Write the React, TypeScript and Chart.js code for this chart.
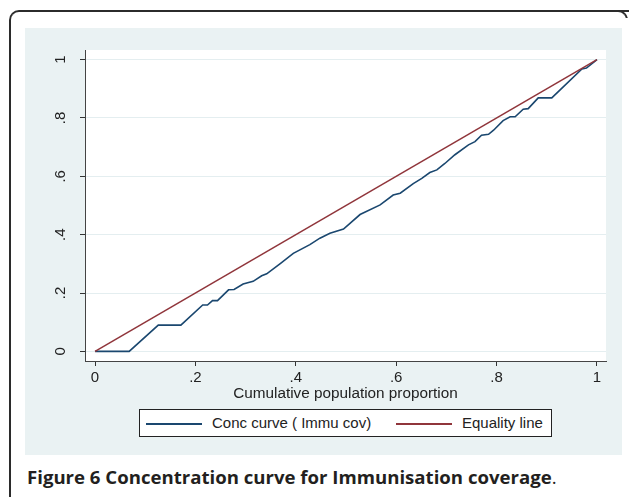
import React, { useEffect, useRef } from 'react';
import { Chart, registerables } from 'chart.js';

Chart.register(...registerables);

// ---- data ----
const concX = [0, 0.068, 0.126, 0.171, 0.2145, 0.224, 0.234, 0.244, 0.266, 0.277, 0.295, 0.315, 0.332, 0.342, 0.369, 0.395, 0.428, 0.448, 0.468, 0.495, 0.528, 0.568, 0.594, 0.608, 0.634, 0.651, 0.667, 0.681, 0.697, 0.717, 0.744, 0.757, 0.77, 0.784, 0.794, 0.813, 0.827, 0.837, 0.853, 0.863, 0.883, 0.91, 0.97, 0.979, 1];
const concY = [0, 0, 0.09, 0.09, 0.159, 0.159, 0.174, 0.174, 0.211, 0.212, 0.231, 0.24, 0.259, 0.266, 0.301, 0.336, 0.366, 0.388, 0.405, 0.419, 0.469, 0.502, 0.536, 0.542, 0.575, 0.593, 0.613, 0.622, 0.644, 0.674, 0.708, 0.719, 0.741, 0.744, 0.758, 0.791, 0.804, 0.804, 0.83, 0.832, 0.869, 0.869, 0.968, 0.971, 1];
const equalX = [0, 1];
const equalY = [0, 1];
const tickValues = [0, 0.2, 0.4, 0.6, 0.8, 1];
const tickLabels = ['0', '.2', '.4', '.6', '.8', '1'];
const seriesLabels = ['Conc curve ( Immu cov)', 'Equality line'];
const seriesColors = ['#1a476f', '#90353b'];
const xTitle = 'Cumulative population proportion';
const captionBold = 'Figure 6 Concentration curve for Immunisation coverage';

const FONT = '"Liberation Sans", Arial, Helvetica, sans-serif';
const PANEL = '#eaf2f3';

const plotBg = {
  id: 'plotBg',
  beforeDraw(chart: any) {
    const { ctx, chartArea } = chart;
    if (!chartArea) return;
    ctx.save();
    ctx.fillStyle = '#ffffff';
    ctx.fillRect(chartArea.left, chartArea.top, chartArea.right - chartArea.left, chartArea.bottom - chartArea.top);
    ctx.restore();
  },
};

function ConcChart() {
  const ref = useRef<HTMLCanvasElement | null>(null);
  useEffect(() => {
    if (!ref.current) return;
    const setTicks = (s: any) => {
      s.ticks = tickValues.map((v) => ({ value: v }));
    };
    const chart = new Chart(ref.current, {
      type: 'scatter',
      data: {
        datasets: [
          {
            label: seriesLabels[0],
            data: concX.map((x, i) => ({ x, y: concY[i] })),
            showLine: true,
            borderColor: seriesColors[0],
            backgroundColor: seriesColors[0],
            borderWidth: 1.6,
            pointRadius: 0,
            tension: 0,
            order: 1,
          },
          {
            label: seriesLabels[1],
            data: equalX.map((x, i) => ({ x, y: equalY[i] })),
            showLine: true,
            borderColor: seriesColors[1],
            backgroundColor: seriesColors[1],
            borderWidth: 1.5,
            pointRadius: 0,
            tension: 0,
            order: 0,
          },
        ],
      },
      options: {
        responsive: false,
        animation: false,
        devicePixelRatio: 1,
        layout: { padding: { left: 0, right: 16, top: 12, bottom: 52 } },
        plugins: { legend: { display: false }, tooltip: { enabled: false } },
        scales: {
          x: {
            type: 'linear',
            min: -0.02,
            max: 1.018,
            afterBuildTicks: setTicks,
            afterFit: (s: any) => {
              s.height = 42;
            },
            ticks: {
              callback: (_v: any, i: number) => tickLabels[i],
              font: { family: FONT, size: 15 },
              color: '#222',
              padding: 3,
              autoSkip: false,
              maxRotation: 0,
              minRotation: 0,
            },
            grid: { drawOnChartArea: false, tickLength: 5, tickColor: '#333', tickWidth: 1 },
            border: { display: true, color: '#444', width: 1 },
            title: {
              display: true,
              text: xTitle,
              font: { family: FONT, size: 15.3 },
              color: '#222',
              padding: { top: 0, bottom: 0 },
            },
          },
          y: {
            type: 'linear',
            min: -0.033,
            max: 1.033,
            afterBuildTicks: setTicks,
            afterFit: (s: any) => {
              s.width = 60;
            },
            ticks: {
              callback: (_v: any, i: number) => tickLabels[i],
              font: { family: FONT, size: 15 },
              color: '#222',
              padding: 13,
              minRotation: 90,
              maxRotation: 90,
              crossAlign: 'center',
              autoSkip: false,
            },
            grid: { color: '#e4eef0', lineWidth: 1, tickLength: 5, tickColor: '#333', tickWidth: 1 },
            border: { display: true, color: '#444', width: 1 },
          },
        },
      } as any,
      plugins: [plotBg],
    });
    return () => chart.destroy();
  }, []);
  return <canvas ref={ref} width={597} height={427} style={{ display: 'block', width: 597, height: 427 }} />;
}

export default function App() {
  return (
    <div
      style={{
        position: 'fixed',
        left: 0,
        top: 0,
        width: 629,
        height: 497,
        overflow: 'hidden',
        background: '#ffffff',
      }}
    >
      <div
        style={{
          position: 'absolute',
          left: 9,
          top: 10,
          width: 640,
          height: 500,
          boxSizing: 'border-box',
          borderLeft: '2px solid #2b2b2b',
          borderTop: '2px solid #2b2b2b',
          borderTopLeftRadius: 10,
          borderBottomLeftRadius: 8,
        }}
      />
      <div
        style={{
          position: 'absolute',
          left: 616,
          top: 10,
          width: 12,
          height: 12,
          boxSizing: 'border-box',
          borderTop: '2px solid #2b2b2b',
          borderRight: '2px solid #2b2b2b',
          borderTopRightRadius: 10,
          clipPath: 'inset(0 0 4px 0)',
        }}
      />
      <div style={{ position: 'absolute', left: 25, top: 28, width: 597, height: 427, background: PANEL }}>
        <ConcChart />
      </div>
      <div
        style={{
          position: 'absolute',
          left: 139,
          top: 409,
          width: 413,
          height: 28,
          boxSizing: 'border-box',
          border: '1px solid #222',
          background: '#ffffff',
          fontFamily: FONT,
          fontSize: 15,
          color: '#222',
        }}
      >
        <div style={{ position: 'absolute', left: 6, top: 13, width: 56, height: 1.6, background: seriesColors[0] }} />
        <div style={{ position: 'absolute', left: 72, top: 0, lineHeight: '26px', whiteSpace: 'nowrap' }}>{seriesLabels[0]}</div>
        <div style={{ position: 'absolute', left: 256, top: 13, width: 56, height: 1.6, background: seriesColors[1] }} />
        <div style={{ position: 'absolute', left: 322, top: 0, lineHeight: '26px', whiteSpace: 'nowrap' }}>{seriesLabels[1]}</div>
      </div>
      <div
        style={{
          position: 'absolute',
          left: 27,
          top: 467,
          lineHeight: '20px',
          fontFamily: '"Open Sans", "Noto Sans", sans-serif',
          fontWeight: 700,
          fontSize: 18.6,
          color: '#231f20',
          whiteSpace: 'nowrap',
        }}
      >
        {captionBold}
        <span style={{ fontWeight: 400 }}>.</span>
      </div>
    </div>
  );
}
